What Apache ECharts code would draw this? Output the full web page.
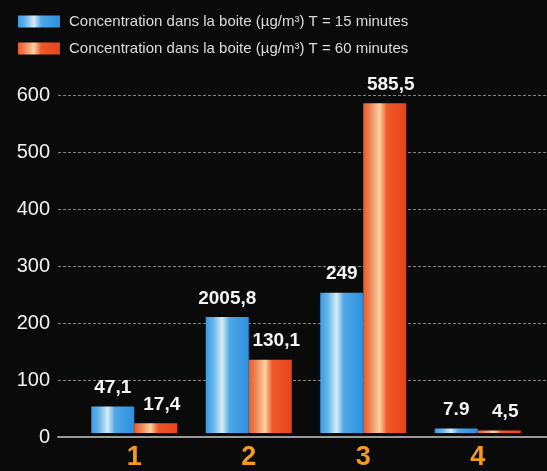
<!DOCTYPE html>
<html>
<head>
<meta charset="utf-8">
<script src="https://cdn.jsdelivr.net/npm/echarts@6/dist/echarts.min.js"></script>
<style>
  html, body { margin: 0; padding: 0; background: #0b0a0b; }
  #chart { width: 547px; height: 471px; }
</style>
</head>
<body>
<div id="chart"></div>
<script>
const categories = ["1", "2", "3", "4"];
const seriesNames = [
  "Concentration dans la boite (µg/m³) T = 15 minutes",
  "Concentration dans la boite (µg/m³) T = 60 minutes"
];
const values15 = [47.1, 205.8, 249, 7.9];
const values60 = [17.4, 130.1, 585.5, 4.5];
const labels15 = ["47,1", "2005,8", "249", "7.9"];
const labels60 = ["17,4", "130,1", "585,5", "4,5"];
const yTicks = [0, 100, 200, 300, 400, 500, 600];

const chart = echarts.init(document.getElementById("chart"), null, { renderer: "canvas" });

const blueFill = new echarts.graphic.LinearGradient(0, 0, 1, 0, [
  { offset: 0, color: "#3b9be4" },
  { offset: 0.18, color: "#68b6ea" },
  { offset: 0.38, color: "#d6ecf6" },
  { offset: 0.55, color: "#4fa8e6" },
  { offset: 1, color: "#2b8fe0" }
]);
const redFill = new echarts.graphic.LinearGradient(0, 0, 1, 0, [
  { offset: 0, color: "#ea5a2c" },
  { offset: 0.18, color: "#f08a5a" },
  { offset: 0.38, color: "#fbd2a2" },
  { offset: 0.55, color: "#ef5a2a" },
  { offset: 1, color: "#e8421c" }
]);

const labelStyle = {
  show: true,
  position: "top",
  distance: 9,
  color: "#f4f4f4",
  fontSize: 19,
  fontWeight: "bold",
  fontFamily: "Liberation Sans, Arial, sans-serif"
};

chart.setOption({
  backgroundColor: "#0b0a0b",
  animation: false,
  legend: {
    orient: "vertical",
    left: 13,
    top: 9,
    itemWidth: 42,
    itemHeight: 12,
    itemGap: 12,
    icon: "rect",
    textStyle: {
      color: "#dcdcdc",
      fontSize: 15,
      padding: [0, 0, 0, 4],
      fontFamily: "Liberation Sans, Arial, sans-serif"
    },
    data: seriesNames
  },
  grid: [
    { left: 58, right: 0, top: 95, bottom: 34 },
    { left: 77, right: 12, top: 95, bottom: 34 }
  ],
  xAxis: [
    {
      type: "category",
      gridIndex: 0,
      data: [""],
      axisLine: { show: true, lineStyle: { color: "#9a9a9a", width: 2 } },
      axisTick: { show: false },
      axisLabel: { show: false }
    },
    {
      type: "category",
      gridIndex: 1,
      data: categories,
      axisLine: { show: false },
      axisTick: { show: false },
      axisLabel: {
        color: "#f39a1f",
        fontSize: 27,
        fontWeight: "bold",
        margin: 11,
        fontFamily: "Liberation Sans, Arial, sans-serif"
      }
    }
  ],
  yAxis: [
    {
      type: "value",
      gridIndex: 0,
      min: 0,
      max: 600,
      interval: 100,
      axisLine: { show: false },
      axisTick: { show: false },
      axisLabel: {
        color: "#f2f2f2",
        fontSize: 20,
        margin: 8,
        fontFamily: "Liberation Sans, Arial, sans-serif",
        formatter: (v) => yTicks.includes(v) ? String(v) : ""
      },
      splitLine: {
        show: true,
        lineStyle: { color: "#8a7f84", type: [3, 2], width: 1 }
      }
    },
    {
      type: "value",
      gridIndex: 1,
      min: 0,
      max: 600,
      interval: 100,
      show: false,
      splitLine: { show: false }
    }
  ],
  series: [
    {
      name: seriesNames[0],
      type: "bar",
      xAxisIndex: 1,
      yAxisIndex: 1,
      barWidth: 43,
      barGap: "0%",
      itemStyle: { color: blueFill },
      label: { ...labelStyle, formatter: (p) => labels15[p.dataIndex] },
      data: values15
    },
    {
      name: seriesNames[1],
      type: "bar",
      xAxisIndex: 1,
      yAxisIndex: 1,
      barWidth: 43,
      barGap: "0%",
      itemStyle: { color: redFill },
      label: { ...labelStyle, offset: [6, 0], formatter: (p) => labels60[p.dataIndex] },
      data: values60
    }
  ]
});
</script>
</body>
</html>
